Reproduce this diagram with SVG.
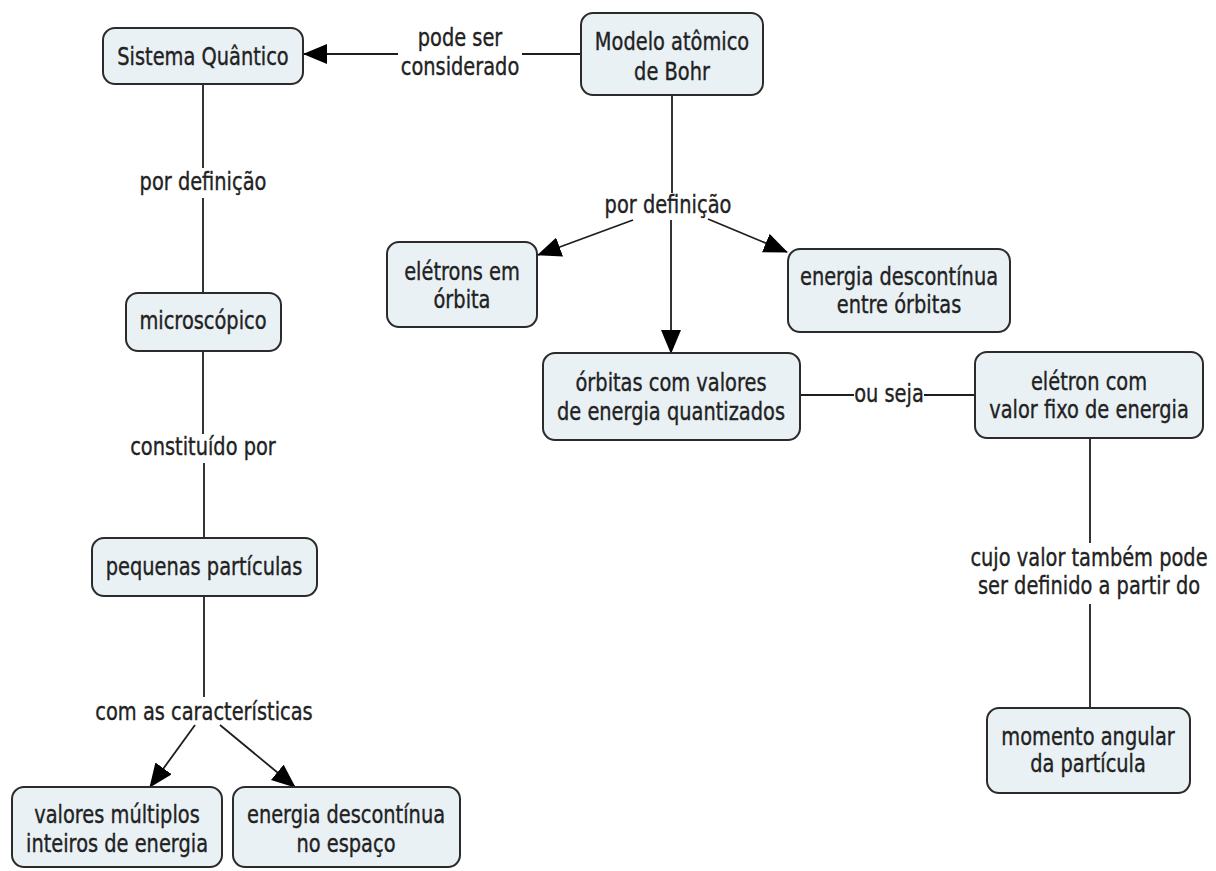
<svg xmlns="http://www.w3.org/2000/svg" width="1216" height="871" viewBox="0 0 1216 871">
  <style>
    .node rect { fill: #e9f1f5; stroke: #2b2b2b; stroke-width: 2; }
    .t { font-family: "DejaVu Sans", Verdana, sans-serif; font-size: 19.4px; fill: #222; stroke: #222; stroke-width: 0.3; text-anchor: middle; }
    .link { stroke: #1e1e1e; stroke-width: 1.8; fill: none; }
    .arrow { marker-end: url(#head); }
  </style>
  <defs>
    <marker id="head" markerUnits="userSpaceOnUse" markerWidth="24" markerHeight="20" refX="23" refY="10" orient="auto">
      <path d="M0,0 L24,10 L0,20 Z" fill="#000"/>
    </marker>
  </defs>
  <rect width="1216" height="871" fill="#fff"/>

  <!-- connectors -->
  <g id="connectors">
    <path class="link" d="M581,54 L522,54"/>
    <path class="link arrow" d="M398,54 L304,54"/>
    <path class="link" d="M672,95 L672,193"/>
    <path class="link arrow" d="M671,220 L671,353"/>
    <path class="link arrow" d="M633,220 L538,255"/>
    <path class="link arrow" d="M708,219 L787,252"/>
    <path class="link" d="M800,395 L854,395"/>
    <path class="link" d="M924,395 L975,395"/>
    <path class="link" d="M1090,438 L1090,543"/>
    <path class="link" d="M1090,604 L1090,708"/>
    <path class="link" d="M203,84 L203,168"/>
    <path class="link" d="M203,198 L203,293"/>
    <path class="link" d="M203,351 L203,434"/>
    <path class="link" d="M204,463 L204,538"/>
    <path class="link" d="M204,596 L204,697"/>
    <path class="link arrow" d="M195,725 L150,787"/>
    <path class="link arrow" d="M220,725 L295,787"/>
  </g>

  <!-- link labels -->
  <g id="labels">
    <text class="t" transform="translate(460,46) scale(1,1.3)"><tspan x="0" y="0">pode ser</tspan><tspan x="0" dy="22">considerado</tspan></text>
    <text class="t" transform="translate(668,213) scale(1,1.3)">por definição</text>
    <text class="t" transform="translate(203,190) scale(1,1.3)">por definição</text>
    <text class="t" transform="translate(203,455) scale(1,1.3)">constituído por</text>
    <text class="t" transform="translate(204,720) scale(1,1.3)">com as características</text>
    <text class="t" transform="translate(889,402) scale(1,1.3)">ou seja</text>
    <text class="t" transform="translate(1089,566) scale(1,1.3)"><tspan x="0" y="0">cujo valor também pode</tspan><tspan x="0" dy="21.5">ser definido a partir do</tspan></text>
  </g>

  <!-- concepts -->
  <g id="sistema-quantico" class="node">
    <rect x="103" y="28" width="200" height="56" rx="12"/>
    <text class="t" transform="translate(203,65) scale(1,1.3)">Sistema Quântico</text>
  </g>
  <g id="modelo-bohr" class="node">
    <rect x="581" y="13" width="182" height="82" rx="12"/>
    <text class="t" transform="translate(672,50) scale(1,1.3)"><tspan x="0" y="0">Modelo atômico</tspan><tspan x="0" dy="23">de Bohr</tspan></text>
  </g>
  <g id="eletrons-orbita" class="node">
    <rect x="387" y="242" width="150" height="85" rx="12"/>
    <text class="t" transform="translate(462,280) scale(1,1.3)"><tspan x="0" y="0">elétrons em</tspan><tspan x="0" dy="21.5">órbita</tspan></text>
  </g>
  <g id="energia-orbitas" class="node">
    <rect x="788" y="249" width="222" height="83" rx="12"/>
    <text class="t" transform="translate(899,285) scale(1,1.3)"><tspan x="0" y="0">energia descontínua</tspan><tspan x="0" dy="21.5">entre órbitas</tspan></text>
  </g>
  <g id="orbitas-quantizadas" class="node">
    <rect x="543" y="353" width="257" height="87" rx="12"/>
    <text class="t" transform="translate(671,391) scale(1,1.3)"><tspan x="0" y="0">órbitas com valores</tspan><tspan x="0" dy="22">de energia quantizados</tspan></text>
  </g>
  <g id="eletron-valor-fixo" class="node">
    <rect x="975" y="352" width="228" height="86" rx="12"/>
    <text class="t" transform="translate(1089,390) scale(1,1.3)"><tspan x="0" y="0">elétron com</tspan><tspan x="0" dy="21.5">valor fixo de energia</tspan></text>
  </g>
  <g id="momento-angular" class="node">
    <rect x="987" y="708" width="203" height="85" rx="12"/>
    <text class="t" transform="translate(1088,745) scale(1,1.3)"><tspan x="0" y="0">momento angular</tspan><tspan x="0" dy="21">da partícula</tspan></text>
  </g>
  <g id="microscopico" class="node">
    <rect x="126" y="293" width="155" height="58" rx="12"/>
    <text class="t" transform="translate(203,329) scale(1,1.3)">microscópico</text>
  </g>
  <g id="pequenas-particulas" class="node">
    <rect x="92" y="538" width="225" height="58" rx="12"/>
    <text class="t" transform="translate(204,575) scale(1,1.3)">pequenas partículas</text>
  </g>
  <g id="valores-multiplos" class="node">
    <rect x="12" y="787" width="210" height="80" rx="12"/>
    <text class="t" transform="translate(117,823) scale(1,1.3)"><tspan x="0" y="0">valores múltiplos</tspan><tspan x="0" dy="22">inteiros de energia</tspan></text>
  </g>
  <g id="energia-espaco" class="node">
    <rect x="233" y="787" width="227" height="80" rx="12"/>
    <text class="t" transform="translate(346,823) scale(1,1.3)"><tspan x="0" y="0">energia descontínua</tspan><tspan x="0" dy="22">no espaço</tspan></text>
  </g>
</svg>
